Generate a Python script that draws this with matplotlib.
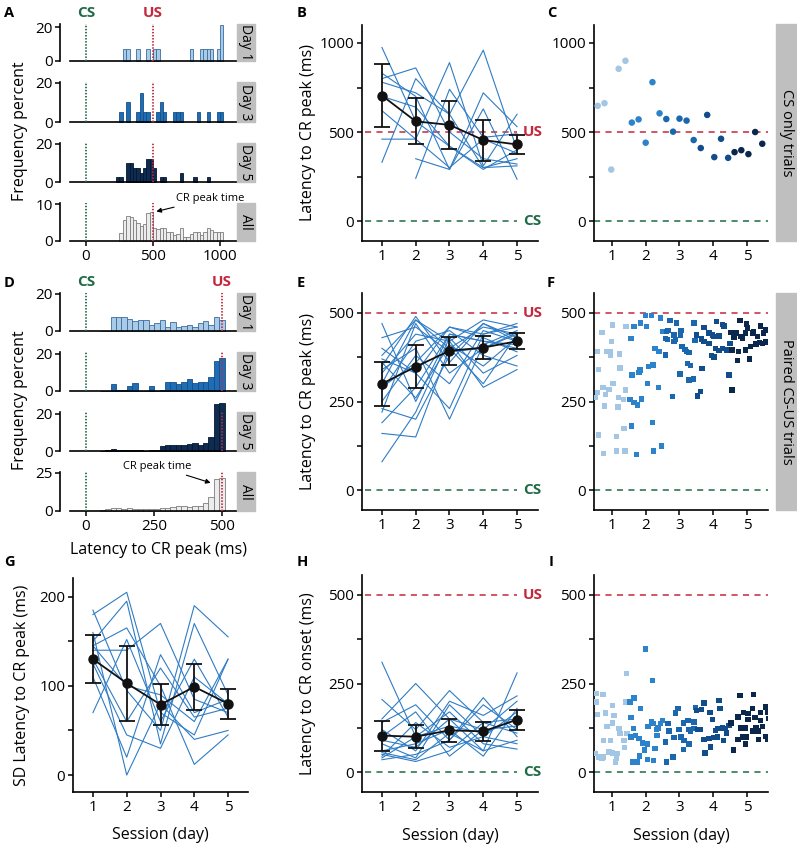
import matplotlib.pyplot as plt
from matplotlib.patches import Rectangle
import numpy as np

nan = np.nan

# ---------------- data ----------------
SESSIONS = [1, 2, 3, 4, 5]
US_MS = 500
CS_MS = 0

# A: CS-only trials, 25 ms bins (left edges), frequency percent
A_DAY1_LEFT = [275, 300, 375, 450, 500, 525, 775, 850, 875, 900, 925, 975, 1000]
A_DAY1_H = [7, 7, 7, 7, 7, 7, 7, 7, 7, 7, 7, 7, 21]
A_DAY3_LEFT = [250, 300, 375, 400, 425, 450, 525, 550, 575, 650, 675, 700, 825, 900, 975, 1000]
A_DAY3_H = [5, 10, 5, 15, 5, 5, 5, 10, 5, 5, 5, 5, 5, 5, 5, 5]
A_DAY5_LEFT = [225, 250, 300, 325, 350, 375, 400, 425, 450, 475, 500, 550, 575, 700, 800, 900]
A_DAY5_H = [2.4, 2.4, 9.8, 9.8, 7.3, 7.3, 4.9, 7.3, 12.2, 12.2, 7.3, 2.4, 2.4, 4.9, 2.4, 2.4]
A_ALL_LEFT = [250, 275, 300, 325, 350, 375, 400, 425, 450, 475, 500, 525, 550, 575, 600, 625,
              650, 675, 700, 725, 750, 775, 800, 825, 850, 875, 900, 925, 950, 975, 1000]
A_ALL_H = [2.2, 5.8, 6.8, 6.5, 5.8, 5.0, 4.0, 4.5, 7.5, 7.8, 3.5, 3.2, 3.5, 3.5, 2.5, 2.5,
           1.5, 2.0, 3.5, 1.0, 1.2, 2.0, 2.5, 2.5, 1.5, 2.5, 3.5, 3.0, 2.5, 2.5, 2.5]

# D: paired CS-US trials, 20 ms bins (centres)
D_CENTERS = [60, 80, 100, 120, 140, 160, 180, 200, 220, 240, 260, 280,
             300, 320, 340, 360, 380, 400, 420, 440, 460, 480, 500]
D_DAY1_H = [0, 0, 7.7, 7.7, 7.7, 6.5, 5.2, 6, 6, 3, 4.5, 6, 2, 5, 2, 2.5, 3.5, 2, 4.5, 5.5, 3, 7.5, 6]
D_DAY3_H = [0, 0, 3.5, 0.8, 0.8, 2.5, 4.5, 0, 0, 2.5, 0, 0.6, 5, 5, 3.5, 5, 6.5, 4.5, 5, 5, 7.5, 16, 18]
D_DAY5_H = [0, 0.3, 1, 0.8, 0.3, 0.3, 0.3, 0.3, 0.2, 0.5, 0.3, 2.5, 3, 3.5, 3.5, 3.5, 4, 4.5, 3, 4.5, 7.5, 25.5, 26]
D_ALL_H = [0.5, 1.5, 1.8, 1.8, 1.5, 1.8, 1, 1.2, 1.5, 1.5, 1.2, 2, 2, 2.5, 3, 3, 2.5, 3.5, 3.5, 5, 9.4, 21, 21.6]

# B: latency to CR peak, CS-only trials (per animal + mean)
B_LINES = [
    [975, 560, 420, 300, 350],
    [830, 700, 290, 720, 530],
    [800, 860, 500, 350, 320],
    [460, 460, 890, 310, 600],
    [330, 800, 600, 960, 400],
    [nan, 240, 740, 470, 490],
    [nan, 350, 290, 630, 235],
    [700, 640, 420, 290, 400],
    [780, 720, 600, 300, 310],
    [620, 460, 300, 460, 380],
]
B_MEAN = [705, 560, 540, 455, 430]
B_ERR = [175, 130, 135, 115, 52]

# C: session-average scatter, CS-only trials
C_X = [0.58, 0.78, 0.98, 1.2, 1.4, 1.59, 1.79, 2.0, 2.2, 2.41, 2.61, 2.81, 3.0,
       3.21, 3.42, 3.63, 3.82, 4.03, 4.23, 4.44, 4.63, 4.83, 5.04, 5.24, 5.45]
C_Y = [647, 662, 289, 855, 900, 553, 571, 440, 780, 605, 573, 502, 575,
       564, 455, 410, 596, 359, 462, 355, 387, 398, 376, 500, 434]

# E: latency to CR peak, paired trials
E_LINES = [
    [470, 250, 440, 420, 410],
    [380, 480, 400, 300, 440],
    [370, 330, 460, 440, 470],
    [350, 490, 360, 470, 430],
    [330, 440, 420, 480, 460],
    [280, 420, 450, 380, 350],
    [250, 380, 300, 450, 420],
    [220, 470, 330, 400, 440],
    [190, 290, 440, 420, 400],
    [160, 150, 400, 460, 440],
    [80, 220, 430, 330, 380],
    [340, 400, 200, 410, 450],
    [300, 480, 420, 290, 340],
    [400, 330, 230, 440, 460],
    [360, 260, 410, 350, 430],
    [290, 360, 460, 430, 390],
    [430, 460, 390, 400, 445],
    [230, 200, 380, 470, 420],
]
E_MEAN = [300, 348, 393, 402, 420]
E_ERR = [62, 60, 40, 32, 23]

# F: trial-by-trial latency to CR peak, paired trials
F_X = [0.57, 0.84, 0.94, 0.96, 1.23, 1.01, 0.71, 0.99, 0.61, 1.24, 1.03, 0.74, 0.91, 0.57,
       0.52, 0.81, 1.40, 1.19, 1.34, 0.78, 1.18, 0.60, 1.14, 0.76, 1.14, 1.39, 1.42, 1.36,
       1.65, 1.85, 2.0, 2.17, 2.03, 1.57, 2.44, 2.27, 2.39, 2.59, 2.49, 2.66, 2.20, 2.08,
       2.24, 1.83, 1.80, 1.60, 2.05, 2.37, 1.53, 1.65, 1.75, 1.87, 1.58, 2.21, 2.47, 2.24, 1.73,
       2.72, 2.91, 2.62, 2.59, 2.64, 2.84, 2.89, 3.05, 3.03, 2.84, 3.08, 3.16, 3.20, 3.28,
       3.43, 3.51, 3.46, 3.23, 3.33, 3.01, 3.28, 3.41, 3.67, 3.63, 3.53, 2.79,
       3.73, 3.87, 3.97, 3.65, 3.73, 3.87, 4.02, 4.10, 4.27, 4.32, 4.17, 4.07, 4.17, 3.94,
       4.02, 4.27, 4.40, 4.52, 4.61, 4.50, 4.55, 4.47, 4.55, 4.79, 4.69, 4.81,
       4.99, 4.74, 4.71, 4.96, 5.08, 5.11, 5.19, 5.31, 5.39, 5.48, 5.55, 5.55, 5.36, 5.26,
       5.16, 5.45, 5.60, 4.86, 4.96, 5.01]
F_Y = [391, 391, 391, 379, 384, 466, 445, 420, 341, 344, 301, 290, 284, 275,
       262, 270, 282, 262, 256, 237, 235, 155, 151, 104, 110, 110, 461, 174,
       461, 471, 492, 492, 461, 428, 485, 400, 391, 381, 447, 450, 353, 348,
       353, 339, 331, 325, 301, 290, 256, 247, 240, 257, 181, 190, 125, 110, 101,
       478, 471, 447, 428, 424, 438, 424, 450, 438, 419, 405, 397, 391, 388,
       471, 438, 422, 358, 351, 328, 311, 313, 343, 278, 266, 264,
       459, 443, 438, 426, 419, 414, 433, 475, 468, 463, 435, 400, 394, 379,
       375, 400, 395, 445, 431, 414, 395, 325, 282, 478, 443, 433,
       469, 391, 365, 395, 370, 405, 447, 433, 463, 443, 452, 419, 417, 412,
       443, 414, 416, 428, 443, 457]

# G: SD of latency to CR peak
G_LINES = [
    [185, 95, 50, 190, 155],
    [180, 205, 70, 45, 130],
    [150, 195, 35, 170, 90],
    [145, 165, 100, 12, 45],
    [140, 140, 170, 85, 70],
    [130, 60, 120, 65, 75],
    [125, 45, 30, 110, 80],
    [70, 152, 60, 130, 65],
    [160, 0, 80, 40, 50],
    [110, 20, 135, 70, 85],
    [145, 100, 90, 60, 130],
]
G_MEAN = [130, 103, 79, 99, 80]
G_ERR = [27, 42, 23, 26, 17]

# H: latency to CR onset
H_LINES = [
    [310, 100, 130, 110, 150],
    [205, 120, 230, 140, 110],
    [150, 250, 150, 60, 280],
    [140, 190, 90, 210, 100],
    [120, 60, 200, 160, 215],
    [100, 170, 45, 120, 200],
    [80, 40, 190, 100, 80],
    [60, 80, 120, 45, 180],
    [50, 30, 60, 140, 150],
    [40, 100, 170, 80, 65],
    [35, 50, 90, 190, 120],
    [45, 140, 70, 100, 170],
    [55, 35, 110, 60, 90],
    [90, 70, 150, 120, 130],
]
H_MEAN = [103, 100, 118, 115, 148]
H_ERR = [42, 33, 32, 27, 28]

# I: trial-by-trial latency to CR onset
I_X = [0.55, 0.74, 0.55, 0.57, 0.81, 1.01, 1.06, 0.86, 1.01, 1.21, 0.76, 0.96, 1.36, 1.43,
       1.40, 1.45, 1.24, 1.38, 0.91, 1.01, 0.61, 0.71, 1.16, 1.14, 1.11, 0.52, 0.76,
       2.0, 2.20, 1.65, 1.53, 1.85, 1.56, 2.17, 2.07, 2.22, 2.36, 2.49, 2.44, 1.63, 1.56,
       1.70, 1.80, 1.90, 2.05, 2.27, 1.97, 1.62, 1.81, 1.75, 2.05, 2.24, 2.34, 2.32,
       2.66, 2.89, 2.96, 3.11, 3.25, 3.43, 2.69, 2.84, 2.99, 3.05, 3.13, 3.28, 3.43, 3.48,
       2.62, 2.81, 2.59, 3.11, 3.28, 3.51, 3.33, 3.53,
       3.73, 3.65, 3.90, 4.17, 4.20, 3.97, 3.63, 3.73, 3.87, 3.92, 3.75, 4.07, 4.14, 4.27,
       4.37, 4.47, 4.30, 4.00, 4.12, 4.40, 4.52, 4.60,
       4.79, 5.19, 4.73, 4.89, 5.03, 5.16, 5.39, 5.55, 5.60, 5.65, 4.82, 5.03, 5.23, 5.40,
       4.96, 5.26, 5.45, 4.71, 4.86, 4.98, 5.18, 5.34, 5.55, 5.60, 5.34, 4.96, 4.73]
I_Y = [221, 219, 198, 163, 167, 188, 160, 129, 139, 123, 90, 90, 90, 279,
       198, 109, 109, 69, 57, 54, 43, 38, 52, 38, 29, 52, 43,
       347, 258, 209, 198, 179, 154, 141, 129, 137, 125, 146, 137, 123, 99,
       104, 95, 82, 79, 66, 62, 29, 45, 29, 36, 32, 104, 120,
       137, 167, 179, 139, 146, 141, 116, 97, 120, 99, 90, 120, 123, 182,
       29, 43, 85, 64, 79, 174, 116, 120,
       195, 176, 169, 202, 179, 148, 120, 92, 95, 71, 54, 118, 123, 125,
       123, 132, 90, 97, 99, 110, 139, 62,
       216, 219, 155, 169, 165, 179, 169, 184, 169, 151, 125, 148, 154, 146,
       125, 125, 129, 92, 99, 99, 116, 116, 101, 92, 92, 79, 92]

# ---------------- style ----------------
GREEN = "#1f6b45"
RED = "#c4283c"
LINE_BLUE = "#2f7cc4"
BOX_GRAY = "#bfbfbf"
SESSION_COLORS = ["#a3c6e4", "#2d82cc", "#1a67ae", "#114d8b", "#0b284c"]
HIST_STYLE = {
    "Day 1": ("#a9cbe8", "#3a6d9e"),
    "Day 3": ("#1f6db5", "#164f86"),
    "Day 5": ("#0e2c52", "#06172c"),
    "All": ("#ececec", "#7d7d7d"),
}
FS = 11

plt.rcParams["font.family"] = ["Open Sans", "DejaVu Sans"]
plt.rcParams["font.size"] = FS
plt.rcParams["axes.linewidth"] = 1.2
plt.rcParams["xtick.major.width"] = 1.1
plt.rcParams["ytick.major.width"] = 1.1
plt.rcParams["xtick.major.size"] = 3.5
plt.rcParams["ytick.major.size"] = 3.5

W, H = 797, 850
fig = plt.figure(figsize=(W / 100, H / 100), dpi=100, facecolor="white")


def fx(px):
    return px / W


def fy(py):
    return 1 - py / H


def px_axes(left, top, right, bottom):
    return fig.add_axes([fx(left), fy(bottom), (right - left) / W, (bottom - top) / H])


def hist_panel(top, bottom, ymax, yticks, xlim, xs, hs, width, align, day, last, xticks):
    ax = px_axes(70, top, 255, bottom)
    fill, edge = HIST_STYLE[day]
    ax.bar(xs, hs, width=width, align=align, color=fill, edgecolor=edge,
           linewidth=0.6, clip_on=False, zorder=2)
    ax.axvline(CS_MS, color=GREEN, lw=1.3, ls=(0, (0.8, 0.9)), zorder=3)
    ax.axvline(US_MS, color=RED, lw=1.3, ls=(0, (0.8, 0.9)), zorder=3)
    ax.set_xlim(*xlim)
    ax.set_ylim(0, ymax)
    ax.spines[["top", "right"]].set_visible(False)
    ax.spines["left"].set_position(("outward", 7.5))
    ax.set_yticks(yticks)
    ax.tick_params(axis="y", labelsize=FS, pad=1.5)
    if last:
        ax.set_xticks(xticks)
        ax.tick_params(axis="x", labelsize=FS, pad=2)
    else:
        ax.set_xticks([])
    ax.add_patch(Rectangle((0.903, 0), 0.097, 1, transform=ax.transAxes,
                           color=BOX_GRAY, zorder=6, clip_on=False))
    ax.text(0.951, 0.5, day, transform=ax.transAxes, rotation=270,
            ha="center", va="center", fontsize=10, zorder=7)
    return ax


def session_axis(ax, xlim, ylim, yticks, ylabels):
    ax.set_xlim(*xlim)
    ax.set_ylim(*ylim)
    ax.spines[["top", "right"]].set_visible(False)
    ax.set_xticks(SESSIONS)
    ax.set_yticks(yticks)
    ax.set_yticklabels(ylabels)
    ax.tick_params(labelsize=FS, pad=2)


def line_panel(ax, lines, mean, err):
    for row in lines:
        ax.plot(SESSIONS, row, color=LINE_BLUE, lw=0.8, zorder=2)
    ax.errorbar(SESSIONS, mean, yerr=err, color="#111111", lw=1.3, marker="o",
                ms=6.5, capsize=5.5, capthick=1.3, elinewidth=1.3, zorder=5)


def ref_lines(ax, labels=True, full=False):
    for val, col, txt in ((US_MS, RED, "US"), (CS_MS, GREEN, "CS")):
        if full:
            ax.axhline(val, color=col, lw=1.1, ls=(0, (4, 3.5)), zorder=1)
        else:
            ax.plot([0.5, 5.0], [val, val], color=col, lw=1.1, ls=(0, (4, 3.5)), zorder=1)
        if labels:
            ax.text(5.17, val, txt, color=col, fontweight="bold", fontsize=FS,
                    ha="left", va="center")


def session_colors(xs):
    return [SESSION_COLORS[int(np.clip(round(x), 1, 5)) - 1] for x in xs]


def side_box(top, bottom, label):
    fig.add_artist(Rectangle((fx(776), fy(bottom)), 21 / W, (bottom - top) / H,
                             transform=fig.transFigure, color=BOX_GRAY))
    fig.text(fx(786.5), fy((top + bottom) / 2), label, rotation=270,
             ha="center", va="center", fontsize=10.5)


# ---- A ----
a_rows = [
    (24, 61, 21.8, [0, 20], A_DAY1_LEFT, A_DAY1_H, "Day 1"),
    (82, 122, 20.5, [0, 20], A_DAY3_LEFT, A_DAY3_H, "Day 3"),
    (143, 182, 20.5, [0, 20], A_DAY5_LEFT, A_DAY5_H, "Day 5"),
    (203, 241, 10.3, [0, 10], A_ALL_LEFT, A_ALL_H, "All"),
]
a_axes = []
for i, (t, b, ym, yt, xs, hs, day) in enumerate(a_rows):
    a_axes.append(hist_panel(t, b, ym, yt, (-119, 1261), xs, hs, 25, "edge", day,
                             i == 3, [0, 500, 1000]))
a_axes[0].text(CS_MS, 1.3, "CS", transform=a_axes[0].get_xaxis_transform(),
               color=GREEN, fontweight="bold", ha="center", va="center", fontsize=FS)
a_axes[0].text(US_MS, 1.3, "US", transform=a_axes[0].get_xaxis_transform(),
               color=RED, fontweight="bold", ha="center", va="center", fontsize=FS)
a_axes[3].annotate("CR peak time", xy=(525, 8.0), xytext=(930, 11.6),
                   fontsize=8, ha="center", va="center", annotation_clip=False,
                   arrowprops=dict(arrowstyle="-|>", color="black", lw=0.8,
                                   mutation_scale=7, shrinkA=2, shrinkB=0))

# ---- D ----
d_rows = [
    (293, 331, 20.5, [0, 20], D_DAY1_H, "Day 1"),
    (352, 391, 21, [0, 20], D_DAY3_H, "Day 3"),
    (412, 451, 21, [0, 20], D_DAY5_H, "Day 5"),
    (472, 511, 25.6, [0, 25], D_ALL_H, "All"),
]
d_axes = []
for i, (t, b, ym, yt, hs, day) in enumerate(d_rows):
    d_axes.append(hist_panel(t, b, ym, yt, (-59, 621), D_CENTERS, hs, 20, "center", day,
                             i == 3, [0, 250, 500]))
d_axes[0].text(CS_MS, 1.3, "CS", transform=d_axes[0].get_xaxis_transform(),
               color=GREEN, fontweight="bold", ha="center", va="center", fontsize=FS)
d_axes[0].text(US_MS, 1.3, "US", transform=d_axes[0].get_xaxis_transform(),
               color=RED, fontweight="bold", ha="center", va="center", fontsize=FS)
d_axes[3].annotate("CR peak time", xy=(458, 18.5), xytext=(262, 29.5),
                   fontsize=8, ha="center", va="center", annotation_clip=False,
                   arrowprops=dict(arrowstyle="-|>", color="black", lw=0.8,
                                   mutation_scale=7, shrinkA=2, shrinkB=0))

fig.text(fx(20), fy(131), "Frequency percent", rotation=90, ha="center", va="center", fontsize=FS + 0.5)
fig.text(fx(20), fy(400), "Frequency percent", rotation=90, ha="center", va="center", fontsize=FS + 0.5)
fig.text(fx(158), fy(550), "Latency to CR peak (ms)", ha="center", va="center", fontsize=FS + 0.5)

# ---- B ----
ax_b = px_axes(362, 25, 538, 241)
line_panel(ax_b, B_LINES, B_MEAN, B_ERR)
ref_lines(ax_b)
session_axis(ax_b, (0.41, 5.62), (-112, 1101), [0, 250, 500, 750, 1000],
             ["0", "", "500", "", "1000"])
ax_b.set_ylabel("Latency to CR peak (ms)", fontsize=FS + 0.5)
ax_b.yaxis.set_label_coords(-0.262, 0.5)

# ---- C ----
ax_c = px_axes(594, 25, 768, 241)
ref_lines(ax_c, labels=False, full=True)
ax_c.scatter(C_X, C_Y, s=22, c=session_colors(C_X), edgecolors="none", zorder=3)
session_axis(ax_c, (0.47, 5.62), (-112, 1101), [0, 250, 500, 750, 1000],
             ["0", "", "500", "", "1000"])
side_box(24, 241, "CS only trials")

# ---- E ----
ax_e = px_axes(362, 293, 538, 510)
line_panel(ax_e, E_LINES, E_MEAN, E_ERR)
ref_lines(ax_e)
session_axis(ax_e, (0.41, 5.62), (-56, 556), [0, 125, 250, 375, 500],
             ["0", "", "250", "", "500"])
ax_e.set_ylabel("Latency to CR peak (ms)", fontsize=FS + 0.5)
ax_e.yaxis.set_label_coords(-0.262, 0.5)

# ---- F ----
ax_f = px_axes(594, 293, 768, 510)
ref_lines(ax_f, labels=False, full=True)
ax_f.scatter(F_X, F_Y, s=15, marker="s", c=session_colors(F_X), edgecolors="none", zorder=3)
session_axis(ax_f, (0.47, 5.62), (-56, 556), [0, 125, 250, 375, 500],
             ["0", "", "250", "", "500"])
side_box(293, 510, "Paired CS-US trials")

# ---- G ----
ax_g = px_axes(73, 578, 248, 792)
line_panel(ax_g, G_LINES, G_MEAN, G_ERR)
session_axis(ax_g, (0.41, 5.59), (-19, 221), [0, 50, 100, 150, 200],
             ["0", "", "100", "", "200"])
ax_g.set_ylabel("SD Latency to CR peak (ms)", fontsize=FS + 0.5)
ax_g.yaxis.set_label_coords(-0.245, 0.5)
ax_g.set_xlabel("Session (day)", fontsize=FS + 0.5)
ax_g.xaxis.set_label_coords(0.5, -0.165)

# ---- H ----
ax_h = px_axes(362, 575, 538, 792)
line_panel(ax_h, H_LINES, H_MEAN, H_ERR)
ref_lines(ax_h)
session_axis(ax_h, (0.41, 5.62), (-56, 556), [0, 125, 250, 375, 500],
             ["0", "", "250", "", "500"])
ax_h.set_ylabel("Latency to CR onset (ms)", fontsize=FS + 0.5)
ax_h.yaxis.set_label_coords(-0.262, 0.5)
ax_h.set_xlabel("Session (day)", fontsize=FS + 0.5)
ax_h.xaxis.set_label_coords(0.5, -0.165)

# ---- I ----
ax_i = px_axes(594, 575, 768, 792)
ref_lines(ax_i, labels=False, full=True)
ax_i.scatter(I_X, I_Y, s=15, marker="s", c=session_colors(I_X), edgecolors="none", zorder=3)
session_axis(ax_i, (0.47, 5.62), (-56, 556), [0, 125, 250, 375, 500],
             ["0", "", "250", "", "500"])
ax_i.set_xlabel("Session (day)", fontsize=FS + 0.5)
ax_i.xaxis.set_label_coords(0.5, -0.165)

# panel letters
for letter, (px, py) in {"A": (4, 13), "B": (297, 13), "C": (547, 13),
                         "D": (4, 283), "E": (297, 283), "F": (547, 283),
                         "G": (4, 562), "H": (297, 562), "I": (549, 562)}.items():
    fig.text(fx(px), fy(py), letter, fontsize=10.5, fontweight="bold",
             ha="left", va="center")

fig.savefig("out.png", dpi=100, facecolor="white")
